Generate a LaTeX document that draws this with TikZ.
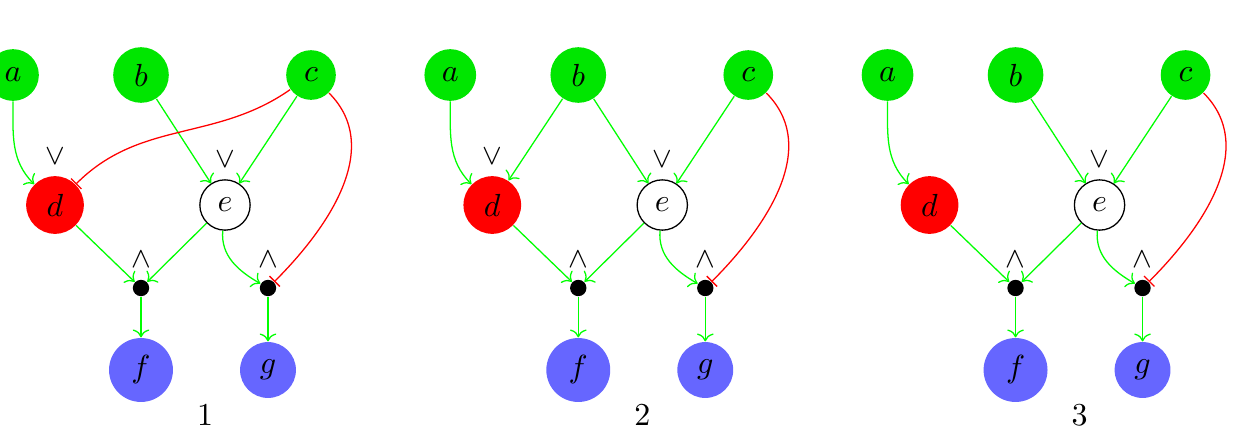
\documentclass[tikz,border=0pt]{standalone}
\usepackage{xcolor}
\usepackage{amsmath}
\usetikzlibrary{arrows.meta}
\newcommand{\orop}{\small$\vee$}
\newcommand{\andop}{\small$\wedge$}

\definecolor{nodegreen}{RGB}{0,230,0}
\definecolor{nodeblue}{RGB}{102,102,255}

\tikzset{
  gene/.style={circle, inner sep=3.33pt},
  ingene/.style={gene, fill=nodegreen},
  redgene/.style={gene, fill=red},
  midgene/.style={gene, draw, fill=white},
  outgene/.style={gene, fill=nodeblue},
  junction/.style={circle, fill=black, inner sep=0pt, minimum size=0.18cm},
  act/.style={green, ->},
  inh/.style={red, -|},
}

\begin{document}
\begin{tikzpicture}
\useasboundingbox (0,0) rectangle (13.673,4.84);

% picture one
\node[ingene] (a1) at (0.143,4.015) {$a$};
\node[ingene] (b1) at (1.551,4.015) {$b$};
\node[ingene] (c1) at (3.421,4.015) {$c$};
\node[redgene, label=above:\orop] (d1) at (0.605,2.585) {$d$};
\node[midgene, label=above:\orop] (e1) at (2.475,2.585) {$e$};
\node[junction, label=above:\andop] (j1) at (1.551,1.672) {};
\node[junction, label=above:\andop] (k1) at (2.948,1.672) {};
\node[outgene] (f1) at (1.551,0.77) {$f$};
\node[outgene] (g1) at (2.948,0.77) {$g$};
\node (n1) at (2.255,0.275) {1};
\draw[act] (a1) to[out=-90,in=135] (d1);
\draw[act] (b1) -- (e1);
\draw[act] (c1) -- (e1);
\draw[inh] (c1) to[out=215,in=45] (d1);
\draw[inh] (c1) to[out=-45,in=45] (k1);
\draw[act] (d1) -- (j1);
\draw[act] (e1) -- (j1);
\draw[act] (e1) to[out=-95,in=150] (k1);
\draw[act] (j1) -- (f1);
\draw[act] (k1) -- (g1);

% picture two
\begin{scope}[xshift=4.81cm]
\node[ingene] (a2) at (0.143,4.015) {$a$};
\node[ingene] (b2) at (1.551,4.015) {$b$};
\node[ingene] (c2) at (3.421,4.015) {$c$};
\node[redgene, label=above:\orop] (d2) at (0.605,2.585) {$d$};
\node[midgene, label=above:\orop] (e2) at (2.475,2.585) {$e$};
\node[junction, label=above:\andop] (j2) at (1.551,1.672) {};
\node[junction, label=above:\andop] (k2) at (2.948,1.672) {};
\node[outgene] (f2) at (1.551,0.77) {$f$};
\node[outgene] (g2) at (2.948,0.77) {$g$};
\node (n2) at (2.255,0.275) {2};
\draw[act] (a2) to[out=-90,in=135] (d2);
\draw[act] (b2) -- (d2);
\draw[act] (b2) -- (e2);
\draw[act] (c2) -- (e2);
\draw[inh] (c2) to[out=-45,in=45] (k2);
\draw[act] (d2) -- (j2);
\draw[act] (e2) -- (j2);
\draw[act] (e2) to[out=-95,in=150] (k2);
\draw[act] (j2) -- (f2);
\draw[act] (k2) -- (g2);
\end{scope}

% picture three
\begin{scope}[xshift=9.62cm]
\node[ingene] (a3) at (0.143,4.015) {$a$};
\node[ingene] (b3) at (1.551,4.015) {$b$};
\node[ingene] (c3) at (3.421,4.015) {$c$};
\node[redgene] (d3) at (0.605,2.585) {$d$};
\node[midgene, label=above:\orop] (e3) at (2.475,2.585) {$e$};
\node[junction, label=above:\andop] (j3) at (1.551,1.672) {};
\node[junction, label=above:\andop] (k3) at (2.948,1.672) {};
\node[outgene] (f3) at (1.551,0.77) {$f$};
\node[outgene] (g3) at (2.948,0.77) {$g$};
\node (n3) at (2.255,0.275) {3};
\draw[act] (a3) to[out=-90,in=135] (d3);
\draw[act] (b3) -- (e3);
\draw[act] (c3) -- (e3);
\draw[inh] (c3) to[out=-45,in=45] (k3);
\draw[act] (d3) -- (j3);
\draw[act] (e3) -- (j3);
\draw[act] (e3) to[out=-95,in=150] (k3);
\draw[act] (j3) -- (f3);
\draw[act] (k3) -- (g3);
\end{scope}
\end{tikzpicture}
\end{document}
